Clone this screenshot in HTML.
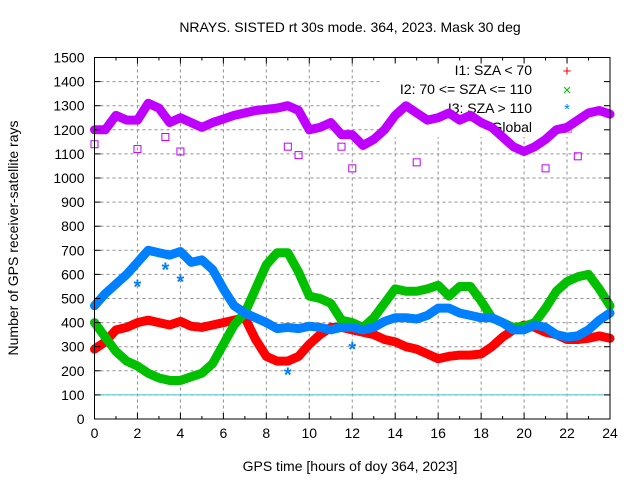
<!DOCTYPE html>
<html><head><meta charset="utf-8"><style>
body{margin:0;background:#fff;}
svg text{font-family:"Liberation Sans",sans-serif;font-size:14px;fill:#000;}
</style></head><body>
<svg id="chart" width="640" height="480" xmlns="http://www.w3.org/2000/svg"></svg>
<script>
const hours=[0,0.5,1,1.5,2,2.5,3,3.5,4,4.5,5,5.5,6,6.5,7,7.5,8,8.5,9,9.5,10,10.5,11,11.5,12,12.5,13,13.5,14,14.5,15,15.5,16,16.5,17,17.5,18,18.5,19,19.5,20,20.5,21,21.5,22,22.5,23,23.5,24];
const redVals=[290,320,370,380,400,410,400,390,405,385,380,390,400,410,420,330,260,240,240,260,310,350,380,380,370,360,350,330,320,300,290,270,250,260,265,265,270,300,340,370,390,380,360,350,330,330,335,345,335];
const greenVals=[400,340,280,240,220,190,170,160,160,175,190,230,310,390,440,540,640,690,690,610,510,500,480,410,400,380,420,480,540,530,530,540,555,510,550,550,490,420,400,380,385,400,460,530,570,590,600,540,470];
const blueVals=[470,520,560,600,650,700,690,680,695,650,660,620,540,470,440,420,400,375,380,375,385,380,370,380,380,370,380,405,420,420,415,430,460,460,440,430,420,420,400,370,370,390,380,350,340,345,370,410,440];
const globalVals=[1200,1200,1260,1240,1240,1310,1290,1230,1250,1230,1210,1230,1245,1260,1270,1280,1285,1290,1300,1280,1200,1210,1230,1180,1180,1135,1160,1200,1260,1300,1270,1240,1250,1270,1240,1260,1230,1210,1170,1130,1110,1130,1160,1200,1210,1240,1270,1280,1265];
const globalOutX=[0,2,3.3,4,9,9.5,11.5,12,15,21,22.5];
const globalOutY=[1140,1120,1170,1110,1130,1095,1130,1040,1065,1040,1090];
const blueOutX=[2,3.3,4,9,12];
const blueOutY=[550,620,570,185,290];
const xTicks=[0,2,4,6,8,10,12,14,16,18,20,22,24];
const yTicks=[0,100,200,300,400,500,600,700,800,900,1000,1100,1200,1300,1400,1500];

const L=94.5,R=610,T=57.5,B=419;
const X=h=>L+(R-L)*h/24, Y=v=>B-(B-T)*v/1500;
const svg=document.getElementById('chart');
const NS='http://www.w3.org/2000/svg';
function mk(tag,at,parent){const e=document.createElementNS(NS,tag);for(const k in at)e.setAttribute(k,at[k]);(parent||svg).appendChild(e);return e;}

for(const t of xTicks){if(t>0&&t<24){const g=mk('line',{x1:X(t),x2:X(t),y1:T,y2:B,stroke:'#909090','stroke-dasharray':'3,3'});

}}
for(const t of yTicks){if(t>0&&t<1500){const g=mk('line',{x1:L,x2:R,y1:Y(t),y2:Y(t),stroke:'#909090','stroke-dasharray':'3,3'});

}}
const lb=mk('rect',{x:380,y:61,width:226,height:76,fill:'#fff'});


const rl=mk('line',{x1:L,x2:R,y1:Y(100),y2:Y(100),stroke:'#40c8d8'});



const legend=[['I1: SZA < 70','#ff0000','+'],['I2: 70 <= SZA <= 110','#00c000','×'],['I3: SZA > 110','#0080ff','*'],['Global','#c000ff','□']];
legend.forEach((d,i)=>{const y=75+i*19;
const t=mk('text',{x:532,y:y,'text-anchor':'end'});t.textContent=d[0];


const m=mk('text',{x:567,y:y+1,'text-anchor':'middle',style:'fill:'+d[1]+';font-size:15px'});m.textContent=d[2];

});

function series(vals,color,name){
 const p=mk('polyline',{points:hours.map((h,i)=>X(h)+','+Y(vals[i])).join(' '),fill:'none',stroke:color,'stroke-width':9,'stroke-linejoin':'round','stroke-linecap':'round'});
 
 
}
series(redVals,'#ff0000','series-i1');
series(greenVals,'#00c000','series-i2');
series(blueVals,'#0080ff','series-i3');
series(globalVals,'#c000ff','series-global');
blueOutX.forEach((h,i)=>{const r=mk('text',{x:X(h),y:Y(blueOutY[i])+7,'text-anchor':'middle',style:'fill:#0080ff;font-size:20px;font-weight:bold'});r.textContent='*';

});
globalOutX.forEach((h,i)=>{const r=mk('rect',{x:X(h)-3.5,y:Y(globalOutY[i])-3.5,width:7,height:7,fill:'none',stroke:'#c000ff'});

});

const fr=mk('rect',{x:L,y:T,width:R-L,height:B-T,fill:'none',stroke:'#000'});


for(let h=0;h<=24;h++){const len=h%2?3:6;
 const a=mk('line',{x1:X(h),x2:X(h),y1:B,y2:B-len,stroke:'#000'});
 
 
 const b=mk('line',{x1:X(h),x2:X(h),y1:T,y2:T+len,stroke:'#000'});
 
 }
for(const t of xTicks){const tx=mk('text',{x:X(t),y:B+19,'text-anchor':'middle'});tx.textContent=t;
 
 }
for(const t of yTicks){
 const a=mk('line',{x1:L,x2:L+6,y1:Y(t),y2:Y(t),stroke:'#000'});
 
 
 const b=mk('line',{x1:R,x2:R-6,y1:Y(t),y2:Y(t),stroke:'#000'});
 
 
 const tx=mk('text',{x:L-10,y:Y(t)+5,'text-anchor':'end'});tx.textContent=t;
 
 }
const ti=mk('text',{x:350,y:32,'text-anchor':'middle'});ti.textContent='NRAYS. SISTED rt 30s mode. 364, 2023. Mask 30 deg';


const xl=mk('text',{x:350,y:471,'text-anchor':'middle'});xl.textContent='GPS time [hours of doy 364, 2023]';


const yl=mk('text',{x:18,y:238,'text-anchor':'middle',transform:'rotate(-90 18 238)'});yl.textContent='Number of GPS receiver-satellite rays';


</script>
</body></html>
